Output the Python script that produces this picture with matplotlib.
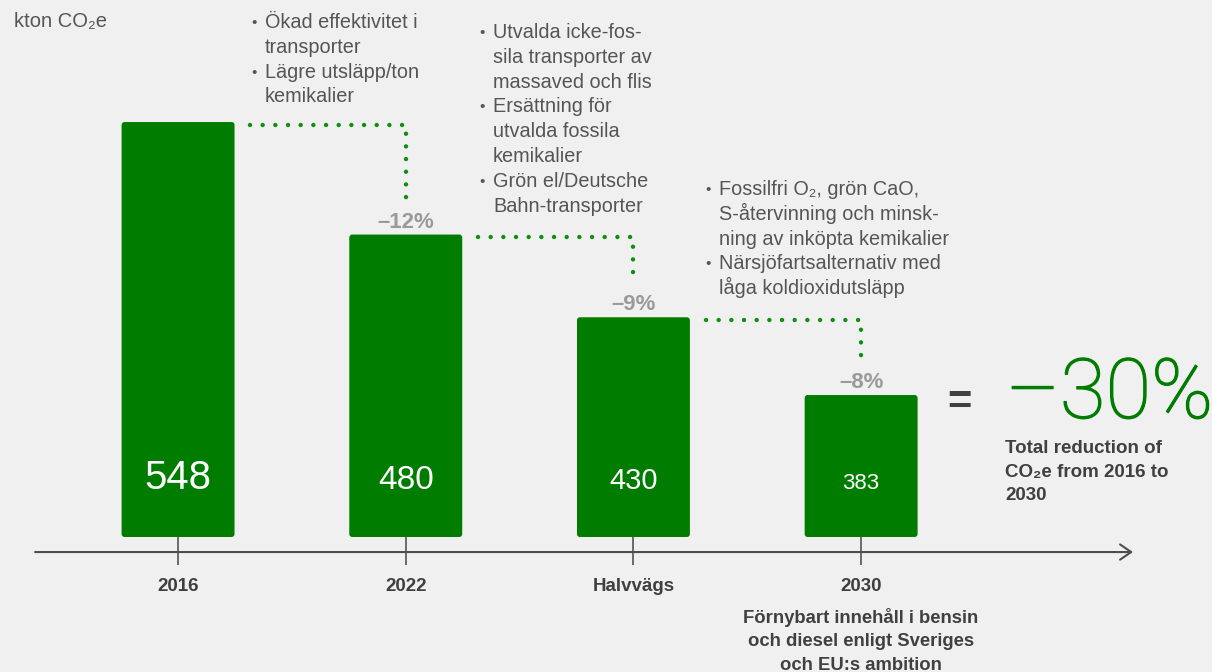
import matplotlib.pyplot as plt
import matplotlib.patheffects as pe
from matplotlib.patches import FancyBboxPatch

plt.rcParams['font.family'] = ['Liberation Sans', 'DejaVu Sans']

# data
categories = ['2016', '2022', 'Halvvägs', '2030']
emissions = [548, 480, 430, 383]
step_changes = ['–12%', '–9%', '–8%']
total_change = '–30%'
unit_label = 'kton CO₂e'
measures_1 = [['Ökad effektivitet i', 'transporter'],
              ['Lägre utsläpp/ton', 'kemikalier']]
measures_2 = [['Utvalda icke-fos-', 'sila transporter av', 'massaved och flis'],
              ['Ersättning för', 'utvalda fossila', 'kemikalier'],
              ['Grön el/Deutsche', 'Bahn-transporter']]
measures_3 = [['Fossilfri O₂, grön CaO,', 'S-återvinning och minsk-',
               'ning av inköpta kemikalier'],
              ['Närsjöfartsalternativ med', 'låga koldioxidutsläpp']]
note_2030 = ['Förnybart innehåll i bensin', 'och diesel enligt Sveriges',
             'och EU:s ambition']
total_text = ['Total reduction of', 'CO₂e from 2016 to', '2030']

# style
BG = '#f0f0f0'
GREEN = '#007d00'
DOT_GREEN = '#0f8f0f'
GREY_TXT = '#555555'
DARK_TXT = '#404040'
W, H = 1212, 672

fig = plt.figure(figsize=(W / 100, H / 100), dpi=100, facecolor=BG)
ax = fig.add_axes([0, 0, 1, 1])
ax.set_facecolor(BG)
ax.set_xlim(-0.782, 4.541)
ax.set_ylim(215.6, 621.75)
ax.axis('off')


def fx(px):
    return px / W


def fy(py):
    return 1 - py / H


def text_lines(x, y0, lines, step=24.8, **kw):
    for k, line in enumerate(lines):
        fig.text(fx(x), fy(y0 + k * step), line, va='baseline', **kw)


# bars (axis starts above zero)
base = 297.2
width = 0.496
for i, v in enumerate(emissions):
    ax.add_patch(FancyBboxPatch((i - width / 2, base), width, v - base,
                                boxstyle='round,pad=0,rounding_size=0.013',
                                mutation_aspect=137, fc=GREEN, ec='none'))

label_sizes = [29, 24, 21, 16]
for i, v in enumerate(emissions):
    ax.text(i, 326.2, str(v), ha='center', va='baseline',
            fontsize=label_sizes[i], color='white')

# step changes and dotted connectors
for i, pct in enumerate(step_changes):
    ax.annotate(pct, (i + 1, emissions[i + 1]), xytext=(0, 7),
                textcoords='offset pixels', ha='center', va='baseline',
                fontsize=16, fontweight='bold', color='#9a9a9a')
    x0 = i + width / 2 + 0.07
    y0 = emissions[i] - 1.5
    ax.plot([x0, i + 1, i + 1], [y0, y0, emissions[i + 1] + 22],
            color=DOT_GREEN, lw=3.2, ls=(0, (0.001, 2.85)),
            dash_capstyle='round', solid_capstyle='round')

# x axis with arrow and ticks
ax.annotate('', xy=(4.194, 288.1), xytext=(-0.628, 288.1),
            arrowprops=dict(arrowstyle='->,head_length=0.8,head_width=0.55',
                            color='#4d4d4d', lw=1.5, shrinkA=0, shrinkB=0))
ax.vlines(range(len(categories)), 280.4, base, color='#555555', lw=1.2)
for i, cat in enumerate(categories):
    ax.text(i, 264.4, cat, ha='center', va='baseline', fontsize=13.5,
            fontweight='bold', color=DARK_TXT)

text_lines(861, 623, note_2030, step=23.5, ha='center', fontsize=13.3,
           fontweight='bold', color=DARK_TXT)

# unit label
fig.text(fx(14), fy(27), unit_label, va='baseline', fontsize=14.5,
         color=GREY_TXT)

# bullet blocks
for (bx, by, block) in [(254, 28, measures_1), (482, 38, measures_2),
                        (708, 195, measures_3)]:
    row = 0
    for item in block:
        fig.text(fx(bx), fy(by + row * 24.8 - 1), '•', ha='center',
                 va='baseline', fontsize=11, color=GREY_TXT)
        text_lines(bx + 11, by + row * 24.8, item, fontsize=14.3,
                   color=GREY_TXT)
        row += len(item)

# total reduction
fig.text(fx(959), fy(414), '=', ha='center', va='baseline', fontsize=30,
         fontweight='bold', color=DARK_TXT)
fig.text(fx(1006), fy(418), total_change, va='baseline', fontsize=60,
         family='Roboto', fontweight='light', color=GREEN,
         path_effects=[pe.withStroke(linewidth=0.9, foreground=GREEN)])
text_lines(1005, 453, total_text, step=23.5, fontsize=13.5,
           fontweight='bold', color=DARK_TXT)

fig.savefig('out.png', dpi=100, facecolor=BG)
